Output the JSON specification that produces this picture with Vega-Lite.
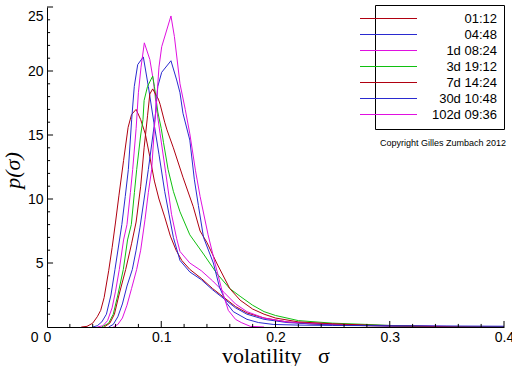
{
  "$schema": "https://vega.github.io/schema/vega-lite/v6.json",
  "width": 457,
  "height": 320,
  "autosize": {"type": "none"},
  "padding": {"left": 47, "top": 7, "right": 8, "bottom": 39},
  "background": "white",
  "config": {"view": {"stroke": null}},
  "datasets": {
    "curves": [
      {"s": "01:12", "x": 0.030, "y": 0}, {"s": "01:12", "x": 0.035, "y": 0.05}, {"s": "01:12", "x": 0.040, "y": 0.3}, {"s": "01:12", "x": 0.044, "y": 0.8}, {"s": "01:12", "x": 0.047, "y": 1.3}, {"s": "01:12", "x": 0.050, "y": 2.3}, {"s": "01:12", "x": 0.054, "y": 4.4}, {"s": "01:12", "x": 0.057, "y": 6.2}, {"s": "01:12", "x": 0.060, "y": 8.2}, {"s": "01:12", "x": 0.063, "y": 10.3}, {"s": "01:12", "x": 0.067, "y": 13.0}, {"s": "01:12", "x": 0.071, "y": 15.6}, {"s": "01:12", "x": 0.074, "y": 16.6}, {"s": "01:12", "x": 0.078, "y": 17.0}, {"s": "01:12", "x": 0.082, "y": 16.2}, {"s": "01:12", "x": 0.086, "y": 15.1}, {"s": "01:12", "x": 0.090, "y": 13.3}, {"s": "01:12", "x": 0.094, "y": 11.4}, {"s": "01:12", "x": 0.098, "y": 10.0}, {"s": "01:12", "x": 0.103, "y": 8.6}, {"s": "01:12", "x": 0.108, "y": 7.1}, {"s": "01:12", "x": 0.113, "y": 6.0}, {"s": "01:12", "x": 0.118, "y": 5.2}, {"s": "01:12", "x": 0.125, "y": 4.5}, {"s": "01:12", "x": 0.135, "y": 3.8}, {"s": "01:12", "x": 0.145, "y": 3.0}, {"s": "01:12", "x": 0.155, "y": 2.3}, {"s": "01:12", "x": 0.165, "y": 1.6}, {"s": "01:12", "x": 0.175, "y": 1.1}, {"s": "01:12", "x": 0.19, "y": 0.7}, {"s": "01:12", "x": 0.21, "y": 0.4}, {"s": "01:12", "x": 0.23, "y": 0.25}, {"s": "01:12", "x": 0.25, "y": 0.17}, {"s": "01:12", "x": 0.28, "y": 0.1}, {"s": "01:12", "x": 0.32, "y": 0.05}, {"s": "01:12", "x": 0.36, "y": 0.02}, {"s": "01:12", "x": 0.40, "y": 0.01},

      {"s": "04:48", "x": 0.040, "y": 0}, {"s": "04:48", "x": 0.044, "y": 0.1}, {"s": "04:48", "x": 0.048, "y": 0.4}, {"s": "04:48", "x": 0.052, "y": 1.0}, {"s": "04:48", "x": 0.056, "y": 2.5}, {"s": "04:48", "x": 0.0595, "y": 4.5}, {"s": "04:48", "x": 0.0655, "y": 8.0}, {"s": "04:48", "x": 0.0685, "y": 10.2}, {"s": "04:48", "x": 0.0712, "y": 12.3}, {"s": "04:48", "x": 0.0741, "y": 16.2}, {"s": "04:48", "x": 0.0764, "y": 18.8}, {"s": "04:48", "x": 0.0794, "y": 20.5}, {"s": "04:48", "x": 0.0843, "y": 21.1}, {"s": "04:48", "x": 0.0887, "y": 18.8}, {"s": "04:48", "x": 0.0935, "y": 16.0}, {"s": "04:48", "x": 0.098, "y": 13.5}, {"s": "04:48", "x": 0.103, "y": 10.6}, {"s": "04:48", "x": 0.1106, "y": 7.0}, {"s": "04:48", "x": 0.1164, "y": 5.2}, {"s": "04:48", "x": 0.125, "y": 4.3}, {"s": "04:48", "x": 0.135, "y": 3.7}, {"s": "04:48", "x": 0.145, "y": 2.9}, {"s": "04:48", "x": 0.155, "y": 2.2}, {"s": "04:48", "x": 0.165, "y": 1.5}, {"s": "04:48", "x": 0.175, "y": 1.0}, {"s": "04:48", "x": 0.19, "y": 0.6}, {"s": "04:48", "x": 0.21, "y": 0.35}, {"s": "04:48", "x": 0.23, "y": 0.25}, {"s": "04:48", "x": 0.26, "y": 0.15}, {"s": "04:48", "x": 0.30, "y": 0.08}, {"s": "04:48", "x": 0.35, "y": 0.03}, {"s": "04:48", "x": 0.40, "y": 0.01},

      {"s": "1d 08:24", "x": 0.044, "y": 0}, {"s": "1d 08:24", "x": 0.049, "y": 0.1}, {"s": "1d 08:24", "x": 0.053, "y": 0.5}, {"s": "1d 08:24", "x": 0.057, "y": 1.5}, {"s": "1d 08:24", "x": 0.060, "y": 2.8}, {"s": "1d 08:24", "x": 0.0633, "y": 4.5}, {"s": "1d 08:24", "x": 0.067, "y": 6.8}, {"s": "1d 08:24", "x": 0.070, "y": 8.0}, {"s": "1d 08:24", "x": 0.073, "y": 10.5}, {"s": "1d 08:24", "x": 0.075, "y": 12.3}, {"s": "1d 08:24", "x": 0.078, "y": 15.5}, {"s": "1d 08:24", "x": 0.080, "y": 18.3}, {"s": "1d 08:24", "x": 0.0823, "y": 20.3}, {"s": "1d 08:24", "x": 0.0852, "y": 22.2}, {"s": "1d 08:24", "x": 0.090, "y": 20.9}, {"s": "1d 08:24", "x": 0.093, "y": 19.3}, {"s": "1d 08:24", "x": 0.096, "y": 17.0}, {"s": "1d 08:24", "x": 0.099, "y": 15.1}, {"s": "1d 08:24", "x": 0.104, "y": 12.0}, {"s": "1d 08:24", "x": 0.109, "y": 8.8}, {"s": "1d 08:24", "x": 0.1135, "y": 6.9}, {"s": "1d 08:24", "x": 0.1164, "y": 5.9}, {"s": "1d 08:24", "x": 0.125, "y": 5.0}, {"s": "1d 08:24", "x": 0.135, "y": 4.4}, {"s": "1d 08:24", "x": 0.145, "y": 3.6}, {"s": "1d 08:24", "x": 0.155, "y": 2.7}, {"s": "1d 08:24", "x": 0.165, "y": 1.8}, {"s": "1d 08:24", "x": 0.175, "y": 1.2}, {"s": "1d 08:24", "x": 0.19, "y": 0.7}, {"s": "1d 08:24", "x": 0.21, "y": 0.4}, {"s": "1d 08:24", "x": 0.23, "y": 0.3}, {"s": "1d 08:24", "x": 0.26, "y": 0.2}, {"s": "1d 08:24", "x": 0.30, "y": 0.12}, {"s": "1d 08:24", "x": 0.33, "y": 0.08}, {"s": "1d 08:24", "x": 0.36, "y": 0.03}, {"s": "1d 08:24", "x": 0.40, "y": 0.01},

      {"s": "3d 19:12", "x": 0.048, "y": 0}, {"s": "3d 19:12", "x": 0.054, "y": 0.3}, {"s": "3d 19:12", "x": 0.058, "y": 1.0}, {"s": "3d 19:12", "x": 0.062, "y": 2.5}, {"s": "3d 19:12", "x": 0.0668, "y": 4.5}, {"s": "3d 19:12", "x": 0.0705, "y": 6.8}, {"s": "3d 19:12", "x": 0.0738, "y": 8.0}, {"s": "3d 19:12", "x": 0.0765, "y": 10.5}, {"s": "3d 19:12", "x": 0.0785, "y": 12.3}, {"s": "3d 19:12", "x": 0.082, "y": 15.0}, {"s": "3d 19:12", "x": 0.084, "y": 16.2}, {"s": "3d 19:12", "x": 0.085, "y": 17.7}, {"s": "3d 19:12", "x": 0.088, "y": 18.8}, {"s": "3d 19:12", "x": 0.0925, "y": 19.6}, {"s": "3d 19:12", "x": 0.094, "y": 18.8}, {"s": "3d 19:12", "x": 0.097, "y": 16.8}, {"s": "3d 19:12", "x": 0.100, "y": 15.5}, {"s": "3d 19:12", "x": 0.102, "y": 14.4}, {"s": "3d 19:12", "x": 0.106, "y": 12.3}, {"s": "3d 19:12", "x": 0.1106, "y": 10.6}, {"s": "3d 19:12", "x": 0.1164, "y": 9.0}, {"s": "3d 19:12", "x": 0.125, "y": 7.2}, {"s": "3d 19:12", "x": 0.137, "y": 5.7}, {"s": "3d 19:12", "x": 0.1485, "y": 4.2}, {"s": "3d 19:12", "x": 0.16, "y": 3.0}, {"s": "3d 19:12", "x": 0.169, "y": 2.4}, {"s": "3d 19:12", "x": 0.18, "y": 1.7}, {"s": "3d 19:12", "x": 0.19, "y": 1.2}, {"s": "3d 19:12", "x": 0.20, "y": 0.9}, {"s": "3d 19:12", "x": 0.22, "y": 0.5}, {"s": "3d 19:12", "x": 0.25, "y": 0.3}, {"s": "3d 19:12", "x": 0.28, "y": 0.2}, {"s": "3d 19:12", "x": 0.30, "y": 0.12}, {"s": "3d 19:12", "x": 0.33, "y": 0.05}, {"s": "3d 19:12", "x": 0.36, "y": 0.02}, {"s": "3d 19:12", "x": 0.40, "y": 0.01},

      {"s": "7d 14:24", "x": 0.050, "y": 0}, {"s": "7d 14:24", "x": 0.055, "y": 0.3}, {"s": "7d 14:24", "x": 0.059, "y": 1.0}, {"s": "7d 14:24", "x": 0.063, "y": 2.5}, {"s": "7d 14:24", "x": 0.0689, "y": 4.5}, {"s": "7d 14:24", "x": 0.074, "y": 6.5}, {"s": "7d 14:24", "x": 0.078, "y": 8.2}, {"s": "7d 14:24", "x": 0.082, "y": 11.0}, {"s": "7d 14:24", "x": 0.085, "y": 14.0}, {"s": "7d 14:24", "x": 0.088, "y": 16.5}, {"s": "7d 14:24", "x": 0.090, "y": 18.2}, {"s": "7d 14:24", "x": 0.0925, "y": 18.6}, {"s": "7d 14:24", "x": 0.0975, "y": 17.8}, {"s": "7d 14:24", "x": 0.099, "y": 17.4}, {"s": "7d 14:24", "x": 0.103, "y": 16.0}, {"s": "7d 14:24", "x": 0.105, "y": 15.4}, {"s": "7d 14:24", "x": 0.1106, "y": 14.0}, {"s": "7d 14:24", "x": 0.119, "y": 11.7}, {"s": "7d 14:24", "x": 0.128, "y": 9.4}, {"s": "7d 14:24", "x": 0.134, "y": 7.5}, {"s": "7d 14:24", "x": 0.140, "y": 6.6}, {"s": "7d 14:24", "x": 0.1485, "y": 5.0}, {"s": "7d 14:24", "x": 0.16, "y": 3.0}, {"s": "7d 14:24", "x": 0.169, "y": 2.1}, {"s": "7d 14:24", "x": 0.18, "y": 1.4}, {"s": "7d 14:24", "x": 0.19, "y": 1.0}, {"s": "7d 14:24", "x": 0.20, "y": 0.7}, {"s": "7d 14:24", "x": 0.22, "y": 0.4}, {"s": "7d 14:24", "x": 0.25, "y": 0.25}, {"s": "7d 14:24", "x": 0.28, "y": 0.15}, {"s": "7d 14:24", "x": 0.30, "y": 0.1}, {"s": "7d 14:24", "x": 0.33, "y": 0.05}, {"s": "7d 14:24", "x": 0.36, "y": 0.02}, {"s": "7d 14:24", "x": 0.40, "y": 0.0},

      {"s": "30d 10:48", "x": 0.054, "y": 0}, {"s": "30d 10:48", "x": 0.058, "y": 0.2}, {"s": "30d 10:48", "x": 0.062, "y": 0.8}, {"s": "30d 10:48", "x": 0.066, "y": 1.8}, {"s": "30d 10:48", "x": 0.070, "y": 3.2}, {"s": "30d 10:48", "x": 0.0747, "y": 4.5}, {"s": "30d 10:48", "x": 0.078, "y": 6.0}, {"s": "30d 10:48", "x": 0.0814, "y": 7.8}, {"s": "30d 10:48", "x": 0.085, "y": 10.0}, {"s": "30d 10:48", "x": 0.0887, "y": 12.3}, {"s": "30d 10:48", "x": 0.0945, "y": 16.2}, {"s": "30d 10:48", "x": 0.097, "y": 18.8}, {"s": "30d 10:48", "x": 0.1004, "y": 19.9}, {"s": "30d 10:48", "x": 0.1085, "y": 20.8}, {"s": "30d 10:48", "x": 0.1135, "y": 19.3}, {"s": "30d 10:48", "x": 0.1164, "y": 18.3}, {"s": "30d 10:48", "x": 0.119, "y": 16.7}, {"s": "30d 10:48", "x": 0.125, "y": 14.6}, {"s": "30d 10:48", "x": 0.129, "y": 11.5}, {"s": "30d 10:48", "x": 0.1325, "y": 9.5}, {"s": "30d 10:48", "x": 0.137, "y": 7.0}, {"s": "30d 10:48", "x": 0.1456, "y": 5.0}, {"s": "30d 10:48", "x": 0.151, "y": 3.1}, {"s": "30d 10:48", "x": 0.157, "y": 1.9}, {"s": "30d 10:48", "x": 0.163, "y": 1.2}, {"s": "30d 10:48", "x": 0.169, "y": 0.9}, {"s": "30d 10:48", "x": 0.175, "y": 0.6}, {"s": "30d 10:48", "x": 0.185, "y": 0.35}, {"s": "30d 10:48", "x": 0.198, "y": 0.2}, {"s": "30d 10:48", "x": 0.22, "y": 0.15}, {"s": "30d 10:48", "x": 0.25, "y": 0.12}, {"s": "30d 10:48", "x": 0.30, "y": 0.1}, {"s": "30d 10:48", "x": 0.35, "y": 0.08}, {"s": "30d 10:48", "x": 0.40, "y": 0.06},

      {"s": "102d 09:36", "x": 0.058, "y": 0}, {"s": "102d 09:36", "x": 0.062, "y": 0.2}, {"s": "102d 09:36", "x": 0.066, "y": 0.7}, {"s": "102d 09:36", "x": 0.070, "y": 1.7}, {"s": "102d 09:36", "x": 0.074, "y": 3.0}, {"s": "102d 09:36", "x": 0.0785, "y": 4.5}, {"s": "102d 09:36", "x": 0.082, "y": 6.0}, {"s": "102d 09:36", "x": 0.0858, "y": 8.4}, {"s": "102d 09:36", "x": 0.0887, "y": 10.5}, {"s": "102d 09:36", "x": 0.0916, "y": 12.3}, {"s": "102d 09:36", "x": 0.0945, "y": 16.2}, {"s": "102d 09:36", "x": 0.096, "y": 17.7}, {"s": "102d 09:36", "x": 0.098, "y": 20.3}, {"s": "102d 09:36", "x": 0.1004, "y": 21.9}, {"s": "102d 09:36", "x": 0.1085, "y": 24.3}, {"s": "102d 09:36", "x": 0.1115, "y": 22.7}, {"s": "102d 09:36", "x": 0.1164, "y": 19.0}, {"s": "102d 09:36", "x": 0.121, "y": 17.0}, {"s": "102d 09:36", "x": 0.125, "y": 15.1}, {"s": "102d 09:36", "x": 0.130, "y": 12.2}, {"s": "102d 09:36", "x": 0.134, "y": 10.2}, {"s": "102d 09:36", "x": 0.141, "y": 7.2}, {"s": "102d 09:36", "x": 0.147, "y": 5.0}, {"s": "102d 09:36", "x": 0.153, "y": 2.9}, {"s": "102d 09:36", "x": 0.1587, "y": 1.3}, {"s": "102d 09:36", "x": 0.165, "y": 0.6}, {"s": "102d 09:36", "x": 0.170, "y": 0.35}, {"s": "102d 09:36", "x": 0.178, "y": 0.05}, {"s": "102d 09:36", "x": 0.19, "y": 0.0}
    ],
    "note": [{"label": "Copyright Gilles Zumbach 2012", "x": 0.4, "y": 14.4}],
    "xmajor": [{"v": 0.1}, {"v": 0.2}, {"v": 0.3}, {"v": 0.4}],
    "xminor": [{"v": 0.02}, {"v": 0.04}, {"v": 0.06}, {"v": 0.08}, {"v": 0.12}, {"v": 0.14}, {"v": 0.16}, {"v": 0.18}, {"v": 0.22}, {"v": 0.24}, {"v": 0.26}, {"v": 0.28}, {"v": 0.32}, {"v": 0.34}, {"v": 0.36}, {"v": 0.38}],
    "ymajor": [{"v": 5}, {"v": 10}, {"v": 15}, {"v": 20}, {"v": 25}],
    "yminor": [{"v": 1}, {"v": 2}, {"v": 3}, {"v": 4}, {"v": 6}, {"v": 7}, {"v": 8}, {"v": 9}, {"v": 11}, {"v": 12}, {"v": 13}, {"v": 14}, {"v": 16}, {"v": 17}, {"v": 18}, {"v": 19}, {"v": 21}, {"v": 22}, {"v": 23}, {"v": 24}]
  },
  "resolve": {"axis": {"x": "independent", "y": "independent"}},
  "layer": [
    {
      "data": {"name": "curves"},
      "mark": {"type": "line", "strokeWidth": 1, "interpolate": "linear", "clip": true},
      "encoding": {
        "x": {
          "field": "x", "type": "quantitative",
          "scale": {"domain": [0, 0.4], "nice": false, "zero": false},
          "axis": {
            "orient": "bottom",
            "title": "volatility\u00a0\u00a0\u00a0σ",
            "titleFont": "Liberation Serif", "titleFontSize": 22, "titleFontWeight": "normal", "titleColor": "black", "titlePadding": 1,
            "values": [0, 0.1, 0.2, 0.3, 0.4], "format": "~g",
            "ticks": false, "domainColor": "black", "domainWidth": 1, "grid": false,
            "labelFont": "Liberation Sans", "labelFontSize": 14, "labelColor": "black", "labelPadding": 3,
            "labelFlush": false, "labelOverlap": false
          }
        },
        "y": {
          "field": "y", "type": "quantitative",
          "scale": {"domain": [0, 25], "nice": false},
          "axis": {
            "orient": "left",
            "title": "p(σ)",
            "titleFont": "Liberation Serif", "titleFontSize": 22, "titleFontWeight": "normal", "titleFontStyle": "italic", "titleColor": "black",
            "titleX": -35, "titleY": 163, "titleBaseline": "middle", "titleAlign": "center",
            "values": [0, 5, 10, 15, 20, 25],
            "ticks": false, "domainColor": "black", "domainWidth": 1, "grid": false,
            "labelBaseline": "middle",
            "labelOffset": {"condition": [{"test": "datum.value == 0", "value": 10}, {"test": "datum.value == 25", "value": 9}], "value": 0},
            "labelPadding": {"condition": {"test": "datum.value == 0", "value": 9}, "value": 4},
            "labelFont": "Liberation Sans", "labelFontSize": 14, "labelColor": "black",
            "labelFlush": false, "labelOverlap": false
          }
        },
        "color": {
          "field": "s", "type": "nominal", "sort": null,
          "scale": {
            "domain": ["01:12", "04:48", "1d 08:24", "3d 19:12", "7d 14:24", "30d 10:48", "102d 09:36"],
            "range": ["#b00010", "#2a2ad0", "#e010e0", "#10c010", "#b00010", "#2a2ad0", "#e010e0"]
          },
          "legend": {
            "orient": "none", "legendX": 328, "legendY": -2,
            "title": null,
            "strokeColor": "black", "fillColor": "white", "padding": 7,
            "symbolType": "M-4.75,0H4.75", "symbolSize": 144, "symbolStrokeWidth": 1,
            "labelFont": "Liberation Sans", "labelFontSize": 13, "labelColor": "black",
            "labelAlign": "right", "labelOffset": 102, "rowPadding": 2
          }
        },
        "detail": {"field": "s"}
      }
    },
    {
      "data": {"name": "xmajor"},
      "mark": {"type": "rule", "color": "black", "strokeWidth": 1},
      "encoding": {
        "x": {"field": "v", "type": "quantitative", "axis": null},
        "y": {"datum": 0, "type": "quantitative", "axis": null},
        "y2": {"datum": 0.47}
      }
    },
    {
      "data": {"name": "xminor"},
      "mark": {"type": "rule", "color": "black", "strokeWidth": 1},
      "encoding": {
        "x": {"field": "v", "type": "quantitative", "axis": null},
        "y": {"datum": 0, "type": "quantitative", "axis": null},
        "y2": {"datum": 0.24}
      }
    },
    {
      "data": {"name": "ymajor"},
      "mark": {"type": "rule", "color": "black", "strokeWidth": 1},
      "encoding": {
        "y": {"field": "v", "type": "quantitative", "axis": null},
        "x": {"datum": 0, "type": "quantitative", "axis": null},
        "x2": {"datum": 0.0053}
      }
    },
    {
      "data": {"name": "yminor"},
      "mark": {"type": "rule", "color": "black", "strokeWidth": 1},
      "encoding": {
        "y": {"field": "v", "type": "quantitative", "axis": null},
        "x": {"datum": 0, "type": "quantitative", "axis": null},
        "x2": {"datum": 0.0027}
      }
    },
    {
      "data": {"name": "note"},
      "mark": {"type": "text", "align": "right", "baseline": "middle", "font": "Liberation Sans", "fontSize": 9, "color": "black", "dx": 2},
      "encoding": {
        "x": {"field": "x", "type": "quantitative", "axis": null},
        "y": {"field": "y", "type": "quantitative", "axis": null},
        "text": {"field": "label"}
      }
    }
  ]
}
